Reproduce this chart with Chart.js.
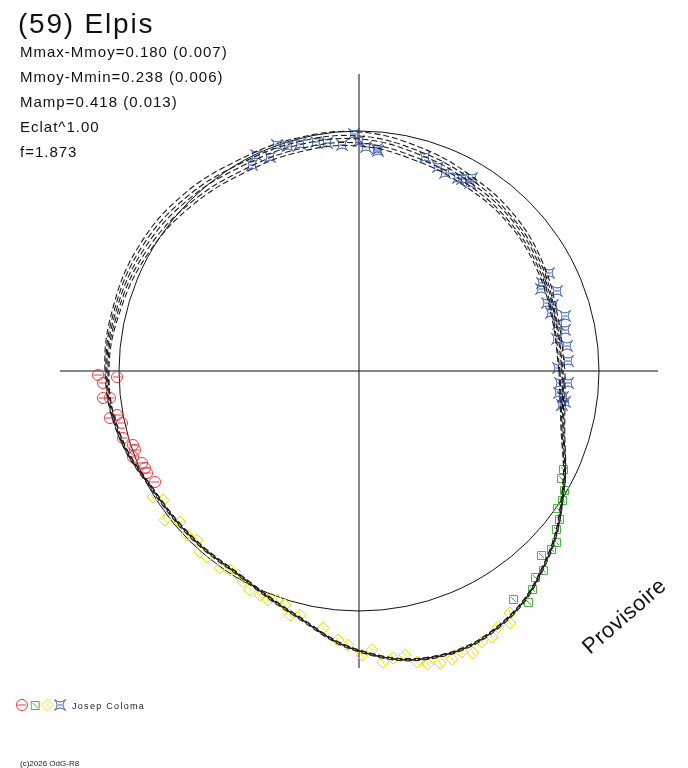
<!DOCTYPE html>
<html><head><meta charset="utf-8">
<script src="https://cdn.jsdelivr.net/npm/chart.js@4.4.1/dist/chart.umd.min.js"></script>
<style>html,body{margin:0;padding:0;background:#fff;overflow:hidden}canvas{display:block}</style>
</head><body>
<canvas id="c" width="688" height="768"></canvas>
<script>
// ---- texts ----
const titleText = "(59) Elpis";
const infoLines = ["Mmax-Mmoy=0.180 (0.007)", "Mmoy-Mmin=0.238 (0.006)", "Mamp=0.418 (0.013)", "Eclat^1.00", "f=1.873"];
const observerName = "Josep Coloma";
const copyrightText = "(c)2026 OdG-R8";
const watermarkText = "Provisoire";

// ---- model curves: polar radius (axis units) at each angle (degrees) ----
const modelAngles = [0, 15, 30, 45, 60, 75, 90, 105, 120, 135, 150, 165, 180, 195, 210, 225, 240, 255, 270, 285, 300, 315, 330, 345];
const model1 = [200, 200, 205, 210, 213, 218, 225, 227, 229, 235, 241, 246, 250, 247, 237, 235, 236, 251, 279, 295, 289, 265, 235, 209];
const model2 = [201, 201, 207, 212, 216, 221, 228, 230, 232, 238, 244, 248, 251, 247, 237, 235, 236, 251, 279, 295, 289, 265, 235, 210];
const model3 = [203, 203, 209, 215, 219, 225, 232, 234, 236, 242, 247, 250, 252, 248, 238, 236, 237, 252, 280, 296, 290, 266, 236, 211];
const model4 = [204, 204, 211, 217, 222, 228, 235, 237, 239, 245, 250, 252, 253, 249, 238, 236, 237, 252, 280, 296, 290, 266, 237, 212];
const model5 = [206, 206, 213, 220, 225, 232, 239, 241, 243, 249, 253, 254, 254, 249, 239, 237, 238, 253, 281, 297, 291, 267, 237, 213];
const refRadius = 240;
const axisHalfX = 299, axisHalfY = 297;

// ---- observations (x, y in axis units) ----
const starX = [-107, -103, -89, -82, -71, -59, -43, -32, -17, -5, 0, 7, 18, 19, 66, 79, 86, 99, 103, 113, 111,
  190, 183, 182, 198, 188, 194, 192, 206, 199, 206, 198, 208, 209, 199, 201, 209, 200, 204, 206, 203];
const starY = [206, 216, 214, 226, 225, 227, 229, 228, 226, 237, 230, 224, 222, 220, 214, 204, 198, 193, 192, 193, 188,
  98, 88, 82, 80, 68, 66, 58, 55, 47, 41, 32, 25, 10, 3, -12, -12, -22, -26, -31, -34];
const circleX = [-261, -242, -256, -256, -249, -249, -242, -237, -236, -226, -224, -226, -217, -214, -212, -204];
const circleY = [-4, -6, -12, -27, -27, -47, -44, -52, -67, -74, -79, -86, -92, -97, -102, -111];
const diamondX = [-206, -196, -194, -179, -172, -162, -159, -152, -139, -129, -121, -116, -109, -99, -91, -82, -74, -69, -59, -36, -21, -11,
  3, 13, 24, 34, 46, 58, 69, 81, 93, 103, 114, 123, 133, 139, 151, 151];
const diamondY = [-126, -129, -149, -151, -164, -169, -181, -186, -197, -199, -204, -211, -219, -224, -229, -229, -234, -244, -244, -257, -269, -274,
  -284, -279, -291, -287, -284, -291, -293, -292, -288, -281, -282, -271, -266, -256, -252, -242];
const squareX = [204, 202, 205, 203, 198, 200, 197, 197, 192, 182, 184, 176, 173, 154, 169];
const squareY = [-98, -107, -119, -129, -137, -148, -158, -171, -178, -184, -199, -206, -218, -228, -231];

const colCircle = '#e8383c', colSquare = '#4cb444', colDiamond = '#f2e200', colStar = '#3456ac';

function toXY(xs, ys) { return xs.map((v, i) => ({x: v, y: ys[i]})); }
function polar(r) {
  const pts = modelAngles.map((a, i) => ({x: r[i] * Math.cos(a * Math.PI / 180), y: r[i] * Math.sin(a * Math.PI / 180)}));
  pts.push(pts[0]);
  return pts;
}

function makeMarker(kind, color) {
  const s = 18, c = document.createElement('canvas');
  c.width = s; c.height = s;
  const g = c.getContext('2d');
  g.translate(9, 9);
  g.strokeStyle = color; g.lineWidth = 1;
  g.beginPath();
  if (kind === 'circle') {
    g.arc(0, 0, 5.5, 0, Math.PI * 2);
    g.moveTo(-4, 0); g.lineTo(4, 0);
  } else if (kind === 'square') {
    g.rect(-3.5, -3.5, 8, 8);
    g.moveTo(-2, -2); g.lineTo(3, 3);
  } else if (kind === 'diamond') {
    g.moveTo(0, -6); g.lineTo(6, 0); g.lineTo(0, 6); g.lineTo(-6, 0); g.closePath();
    g.moveTo(-1.5, -2.5); g.lineTo(1.5, 2.5);
  } else {
    const k = 5.5;
    g.moveTo(-k, -k);
    g.quadraticCurveTo(0, -0.5, k, -k);
    g.quadraticCurveTo(0.5, 0, k, k);
    g.quadraticCurveTo(0, 0.5, -k, k);
    g.quadraticCurveTo(-0.5, 0, -k, -k);
    g.moveTo(-2, 0); g.lineTo(2, 0);
  }
  g.stroke();
  return c;
}
const mCircle = makeMarker('circle', colCircle);
const mSquare = makeMarker('square', colSquare);
const mDiamond = makeMarker('diamond', colDiamond);
const mStar = makeMarker('star', colStar);

const curveDatasets = [model1, model2, model3, model4, model5].map((m, i) => ({
  data: polar(m), showLine: true, tension: 0.4, pointRadius: 0, borderColor: '#1c1c1c',
  borderWidth: 1.1, borderDash: [6, 3], borderDashOffset: i * 1.8, clip: false, order: 1
}));
function markerSet(xs, ys, img) {
  return {data: toXY(xs, ys), showLine: false, pointStyle: img, pointRadius: 6, clip: false, order: 2};
}

const refCircle = {
  id: 'refCircle',
  beforeDatasetsDraw(chart) {
    const {x, y} = chart.scales, ctx = chart.ctx;
    const cx = x.getPixelForValue(0), cy = y.getPixelForValue(0);
    const r = x.getPixelForValue(refRadius) - cx;
    ctx.save(); ctx.strokeStyle = '#111'; ctx.lineWidth = 1;
    ctx.beginPath(); ctx.arc(cx, cy, r, 0, Math.PI * 2); ctx.stroke(); ctx.restore();
  }
};
const texts = {
  id: 'texts',
  afterDraw(chart) {
    const ctx = chart.ctx;
    ctx.save();
    ctx.fillStyle = '#111'; ctx.textBaseline = 'alphabetic'; ctx.textAlign = 'left';
    ctx.font = '28px "Liberation Sans", Arial, sans-serif';
    ctx.letterSpacing = '1.8px';
    ctx.fillText(titleText, 18, 33);
    ctx.font = '15px "Liberation Sans", Arial, sans-serif';
    ctx.letterSpacing = '1px';
    infoLines.forEach((t, i) => ctx.fillText(t, 20, 57 + i * 25));
    // legend
    [mCircle, mSquare, mDiamond, mStar].forEach((img, i) => ctx.drawImage(img, 22 + i * 12.7 - 9, 705 - 9));
    ctx.font = '9px "Liberation Sans", Arial, sans-serif';
    ctx.letterSpacing = '1.3px';
    ctx.fillStyle = '#222';
    ctx.fillText(observerName, 72, 709);
    ctx.font = '8px "Liberation Sans", Arial, sans-serif';
    ctx.letterSpacing = '0px';
    ctx.fillText(copyrightText, 20, 766);
    // watermark
    ctx.translate(590, 655);
    ctx.rotate(-41 * Math.PI / 180);
    ctx.font = '22px "Liberation Sans", Arial, sans-serif';
    ctx.letterSpacing = '0.5px';
    ctx.fillStyle = '#111';
    ctx.fillText(watermarkText, 0, 0);
    ctx.restore();
  }
};

new Chart(document.getElementById('c'), {
  type: 'scatter',
  data: {
    datasets: [
      {data: [{x: -axisHalfX, y: 0}, {x: axisHalfX, y: 0}], showLine: true, borderColor: '#111', borderWidth: 1, pointRadius: 0, clip: false, order: 3},
      {data: [{x: 0, y: -axisHalfY}, {x: 0, y: axisHalfY}], showLine: true, borderColor: '#111', borderWidth: 1, pointRadius: 0, clip: false, order: 3},
      markerSet(circleX, circleY, mCircle),
      markerSet(squareX, squareY, mSquare),
      markerSet(diamondX, diamondY, mDiamond),
      markerSet(starX, starY, mStar),
      ...curveDatasets
    ]
  },
  options: {
    responsive: false, animation: false,
    layout: {padding: {left: 60, right: 30, top: 74, bottom: 100}},
    scales: {
      x: {type: 'linear', min: -axisHalfX, max: axisHalfX, display: false},
      y: {type: 'linear', min: -axisHalfY, max: axisHalfY, display: false}
    },
    plugins: {legend: {display: false}, tooltip: {enabled: false}}
  },
  plugins: [refCircle, texts]
});
</script>
</body></html>
